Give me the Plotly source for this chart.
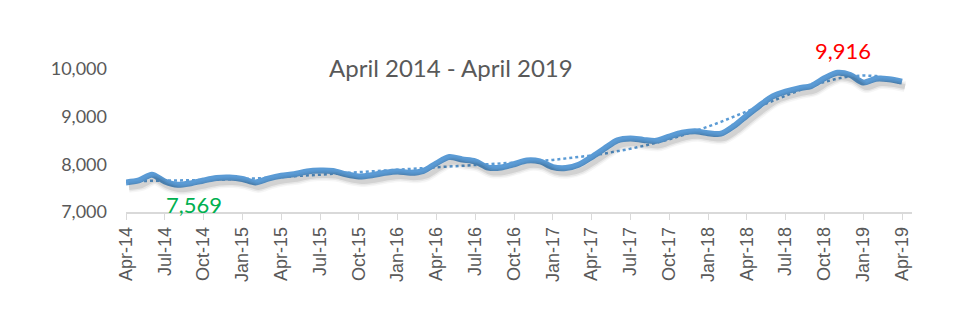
import numpy as np
import plotly.graph_objects as go

months = ["Apr-14","May-14","Jun-14","Jul-14","Aug-14","Sep-14","Oct-14","Nov-14","Dec-14",
          "Jan-15","Feb-15","Mar-15","Apr-15","May-15","Jun-15","Jul-15","Aug-15","Sep-15","Oct-15","Nov-15","Dec-15",
          "Jan-16","Feb-16","Mar-16","Apr-16","May-16","Jun-16","Jul-16","Aug-16","Sep-16","Oct-16","Nov-16","Dec-16",
          "Jan-17","Feb-17","Mar-17","Apr-17","May-17","Jun-17","Jul-17","Aug-17","Sep-17","Oct-17","Nov-17","Dec-17",
          "Jan-18","Feb-18","Mar-18","Apr-18","May-18","Jun-18","Jul-18","Aug-18","Sep-18","Oct-18","Nov-18","Dec-18",
          "Jan-19","Feb-19","Mar-19","Apr-19"]

values = [7620, 7660, 7780, 7640, 7569, 7600, 7660, 7710, 7720,
          7690, 7620, 7700, 7760, 7790, 7850, 7870, 7860, 7790, 7745, 7770, 7820,
          7850, 7820, 7860, 8020, 8150, 8100, 8060, 7930, 7930, 8000, 8080, 8060,
          7940, 7920, 7990, 8150, 8330, 8500, 8540, 8510, 8490, 8580, 8660, 8690,
          8650, 8640, 8800, 9020, 9230, 9420, 9520, 9590, 9640, 9800, 9916, 9870,
          9710, 9790, 9780, 9730]

tick_labels = months[::3]
y_ticks = [7000, 8000, 9000, 10000]

min_label = "7,569"
max_label = "9,916"
title_text = "April 2014 - April 2019"

idx = np.arange(len(values))
xs = (idx - idx.mean()) / idx.std()
coef = np.polyfit(xs, values, 6)
trend = np.polyval(coef, xs)

BLUE = "#5B9BD5"
fig = go.Figure()

# soft shadow drawn on shifted overlay axes
for w, op in [(11, 0.035), (8, 0.06), (5, 0.09)]:
    fig.add_trace(go.Scatter(x=idx, y=values, mode="lines", xaxis="x2", yaxis="y2",
                             line=dict(color=f"rgba(0,0,0,{op})", width=w, shape="spline", smoothing=0.8),
                             hoverinfo="skip", showlegend=False))

fig.add_trace(go.Scatter(x=idx, y=values, mode="lines",
                         line=dict(color=BLUE, width=6, shape="spline", smoothing=0.8),
                         showlegend=False))
fig.add_trace(go.Scatter(x=idx, y=trend, mode="lines",
                         line=dict(color=BLUE, width=2.5, dash="dot"),
                         showlegend=False))

imin = int(np.argmin(values))
imax = int(np.argmax(values))
fig.add_annotation(x=imin, y=values[imin], text=min_label, showarrow=False,
                   xshift=16, yshift=-20, font=dict(family="Lato", size=22, color="#00B050"))
fig.add_annotation(x=imax, y=values[imax], text=max_label, showarrow=False,
                   xshift=6, yshift=22, font=dict(family="Lato", size=22, color="#FF0000"))
fig.add_annotation(x=0.414, y=0.845, xref="paper", yref="paper", text=title_text, showarrow=False,
                   font=dict(family="Lato", size=24, color="#595959"))

xr = [0, 60.77]
yr = [7000, 11000]
sx = 3 / 12.93
sy = 5 / 0.04775

fig.update_layout(
    width=972, height=322,
    margin=dict(l=126, r=60, t=21, b=110),
    paper_bgcolor="white", plot_bgcolor="white",
    xaxis=dict(range=xr, tickvals=list(idx[::3]), ticktext=tick_labels, tickangle=-90,
               showgrid=False, zeroline=False, showline=True, linecolor="#D9D9D9", linewidth=1.5,
               ticks="outside", ticklen=6, tickcolor="#D9D9D9",
               tickfont=dict(family="Liberation Sans, Arial", size=18, color="#595959")),
    yaxis=dict(range=yr, tickvals=y_ticks, tickformat=",", showgrid=False, zeroline=False,
               showline=False, ticks="", ticklabelstandoff=18,
               tickfont=dict(family="Lato", size=18, color="#595959")),
    xaxis2=dict(range=[xr[0] - sx, xr[1] - sx], overlaying="x", visible=False),
    yaxis2=dict(range=[yr[0] + sy, yr[1] + sy], overlaying="y", visible=False),
)

fig.write_html("out.html")
